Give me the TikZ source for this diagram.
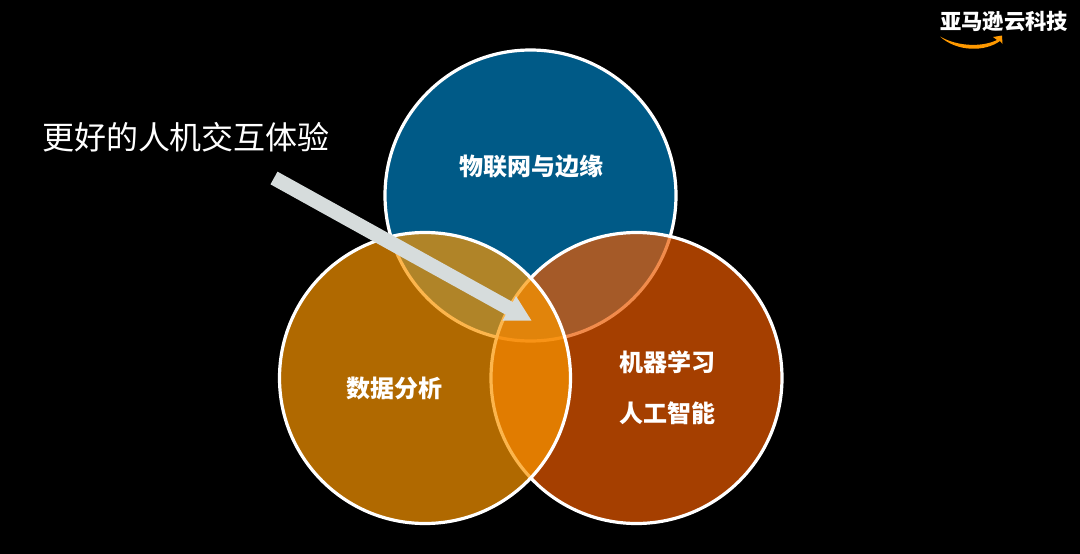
\documentclass[tikz,border=0pt]{standalone}
\usepackage{fontspec}
\setmainfont{Noto Sans CJK SC}
\usetikzlibrary{arrows.meta}

\definecolor{iotblue}{RGB}{0,90,135}
\definecolor{mlred}{RGB}{236,91,0}
\definecolor{dataorange}{RGB}{251,151,0}
\definecolor{arrowgray}{RGB}{214,220,220}
\definecolor{smileorange}{RGB}{255,153,0}

\begin{document}
\begin{tikzpicture}
	[x=1pt,y=-1pt,
	venn/.style={draw=white,line width=3.2pt,fill opacity=0.7},
	label/.style={text=white,font=\bfseries\fontsize{24}{27}\selectfont}]

	% Fix page size
	\fill[black] (0,0) rectangle (1080,554);
	\useasboundingbox (0,0) rectangle (1080,554);

	% Create circles
	\coordinate (CT) at (530.5,195.5);
	\coordinate (CR) at (636.5,378);
	\coordinate (CL) at (425,378);

	\draw[venn,fill=iotblue,fill opacity=1] (CT) circle[radius=145.5pt];
	\draw[venn,fill=mlred] (CR) circle[radius=145.5pt];
	\draw[venn,fill=dataorange] (CL) circle[radius=145.5pt];

	% Circle labels
	\node[label] (iot) at (531,166) {物联网与边缘};
	\node[label] (data) at (394,388) {数据分析};
	\node[label] (ml) at (667,362) {机器学习};
	\node[label] (ai) at (667,413) {人工智能};

	% Draw pointer
	\node[text=white,font=\fontsize{32}{36}\selectfont] (ux) at (186,137) {更好的人机交互体验};
	\coordinate (TAIL) at (274,178);
	\coordinate (TIP) at (532,321);
	\draw[arrowgray,line width=14.5pt,-{Triangle[length=26pt,width=26pt]}] (TAIL) -- (TIP);

	% Logo
	\node[text=white,font=\bfseries\fontsize{21.3}{24}\selectfont] (logo) at (1004,21) {亚马逊云科技};
	\fill[smileorange] (940,36.5) .. controls (958,47) and (983,47) .. (997,40)
		-- (993,37) -- (1002,35.5) -- (1002.5,44) -- (1000,41)
		.. controls (985,52) and (957,52) .. (940,36.5);

\end{tikzpicture}
\end{document}
